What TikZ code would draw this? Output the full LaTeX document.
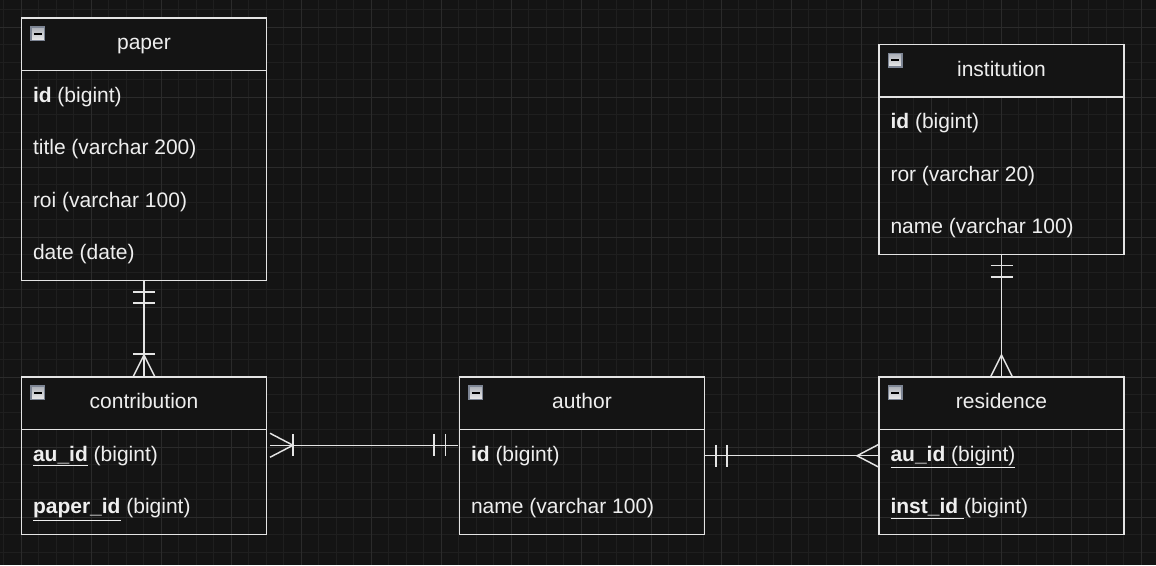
\documentclass[tikz,border=0pt]{standalone}
\usepackage{fontspec}
\setmainfont{Liberation Sans}
\usetikzlibrary{calc}

\definecolor{bgcol}{RGB}{20,20,20}
\definecolor{gridminor}{RGB}{31,31,31}
\definecolor{gridmajor}{RGB}{43,43,43}
\definecolor{edgecol}{RGB}{228,228,228}
\definecolor{txtcol}{RGB}{238,238,238}
\definecolor{iconedge}{RGB}{125,133,148}
\definecolor{icontop}{RGB}{236,236,236}
\definecolor{iconbot}{RGB}{170,174,182}

\tikzset{every picture/.style={line width=0.75pt}}

\begin{document}
\begin{tikzpicture}[x=0.75pt,y=0.75pt,yscale=-1,xscale=1,
	tbl/.style={draw=edgecol, line width=1.1pt, minimum width=183.75pt, inner sep=0pt, outer sep=0pt, anchor=north west},
	hdrbox/.style={tbl, fill=bgcol, minimum height=39.375pt, text=txtcol, text height=0.9em, text depth=0.1em, font=\fontsize{15.75}{19}\selectfont},
	fld/.style={anchor=west, inner sep=0.75pt, text=txtcol, text height=0.87em, text depth=0.13em, font=\fontsize{15.75}{19}\selectfont},
	conn/.style={draw=edgecol, line width=1.1pt},
	icon/.style={draw=iconedge, line width=0.9pt, top color=iconbot, bottom color=icontop},
	minus/.style={draw=black, line width=1.6pt}]
	
	\useasboundingbox (0,0) rectangle (1156,565);
	%Shape: Background
	\fill[bgcol] (0,0) rectangle (1156,565);
	%Shape: Grid
	\foreach \i in {0,...,66} \draw[gridminor, line width=0.6pt] ({3.5+17.5*\i},0) -- ++(0,565);
	\foreach \j in {0,...,32} \draw[gridminor, line width=0.6pt] (0,{9.5+17.5*\j}) -- ++(1156,0);
	\foreach \i in {0,...,16} \draw[gridmajor, line width=0.6pt] ({21+70*\i},0) -- ++(0,565);
	\foreach \j in {0,...,7} \draw[gridmajor, line width=0.6pt] (0,{27+70*\j}) -- ++(1156,0);
	
	%Shape: Table [paper]
	\node[tbl, minimum height=196.875pt] (paper) at (21.5,18) {};
	\node[hdrbox] (paperhead) at (paper.north west) {paper};
	%Shape: Table [institution]
	\node[tbl, minimum height=157.5pt] (institution) at (879,44.5) {};
	\node[hdrbox] (insthead) at (institution.north west) {institution};
	%Shape: Table [contribution]
	\node[tbl, minimum height=118.125pt] (contribution) at (21.5,377) {};
	\node[hdrbox] (contribhead) at (contribution.north west) {contribution};
	%Shape: Table [author]
	\node[tbl, minimum height=118.125pt] (author) at (459.5,377) {};
	\node[hdrbox] (authorhead) at (author.north west) {author};
	%Shape: Table [residence]
	\node[tbl, minimum height=118.125pt] (residence) at (879,377) {};
	\node[hdrbox] (reshead) at (residence.north west) {residence};
	
	%Shape: Collapse icons
	\foreach \t in {paper,institution,contribution,author,residence} {
		\shade[icon] ($(\t.north west)+(9.5,9)$) rectangle ++(13.5,13.5);
		\draw[minus] ($(\t.north west)+(12.3,15.75)$) -- ++(8,0);
	}
	
	% Text Node
	\node[fld] (paperid) at (31.5,97.25) {\textbf{id} (bigint)};
	% Text Node
	\node[fld] (papertitle) at (31.5,149.75) {title (varchar 200)};
	% Text Node
	\node[fld] (paperroi) at (31.5,202.25) {roi (varchar 100)};
	% Text Node
	\node[fld] (paperdate) at (31.5,254.75) {date (date)};
	% Text Node
	\node[fld] (instid) at (889,123.75) {\textbf{id} (bigint)};
	% Text Node
	\node[fld] (instror) at (889,176.25) {ror (varchar 20)};
	% Text Node
	\node[fld] (instname) at (889,228.75) {name (varchar 100)};
	% Text Node
	\node[fld] (contribau) at (31.5,456.25) {\underline{\textbf{au\_id}} (bigint)};
	% Text Node
	\node[fld] (contribpaper) at (31.5,508.75) {\underline{\textbf{paper\_id}} (bigint)};
	% Text Node
	\node[fld] (authorid) at (469.5,456.25) {\textbf{id} (bigint)};
	% Text Node
	\node[fld] (authorname) at (469.5,508.75) {name (varchar 100)};
	% Text Node
	\node[fld] (resau) at (889,456.25) {\underline{\textbf{au\_id} (bigint)}};
	% Text Node
	\node[fld] (resinst) at (889,508.75) {\underline{\textbf{inst\_id} }(bigint)};
	
	%Straight Lines [paper - contribution]
	\draw[conn] (paper.south) -- (contribution.north);
	\draw[conn] ($(paper.south)+(-11,11.5)$) -- ++(22,0);
	\draw[conn] ($(paper.south)+(-11,22.5)$) -- ++(22,0);
	\draw[conn] ($(contribution.north)+(-11,-23)$) -- ++(22,0);
	\draw[conn] ($(contribution.north)+(-11,0)$) -- ($(contribution.north)+(0,-22)$) -- ($(contribution.north)+(11,0)$);
	
	%Straight Lines [contribution - author]
	\coordinate (ca1) at ($(contribution.east)+(3.5,-10.5)$);
	\coordinate (ca2) at ($(author.west |- ca1)+(-1.5,0)$);
	\draw[conn] (ca1) -- (ca2);
	\draw[conn] ($(ca1)+(0,-12)$) -- ($(ca1)+(23,0)$) -- ($(ca1)+(0,12)$);
	\draw[conn] ($(ca1)+(23,-11)$) -- ++(0,22);
	\draw[conn] ($(ca2)+(-24,-11)$) -- ++(0,22);
	\draw[conn] ($(ca2)+(-12.5,-11)$) -- ++(0,22);
	
	%Straight Lines [author - residence]
	\draw[conn] (author.east) -- (residence.west);
	\draw[conn] ($(author.east)+(11.5,-11)$) -- ++(0,22);
	\draw[conn] ($(author.east)+(22.5,-11)$) -- ++(0,22);
	\draw[conn] ($(residence.west)+(0,-11.5)$) -- ($(residence.west)+(-22,0)$) -- ($(residence.west)+(0,11.5)$);
	
	%Straight Lines [institution - residence]
	\draw[conn] (institution.south) -- (residence.north);
	\draw[conn] ($(institution.south)+(-11,11)$) -- ++(22,0);
	\draw[conn] ($(institution.south)+(-11,22.5)$) -- ++(22,0);
	\draw[conn] ($(residence.north)+(-11,0)$) -- ($(residence.north)+(0,-22)$) -- ($(residence.north)+(11,0)$);
	
\end{tikzpicture}
\end{document}
